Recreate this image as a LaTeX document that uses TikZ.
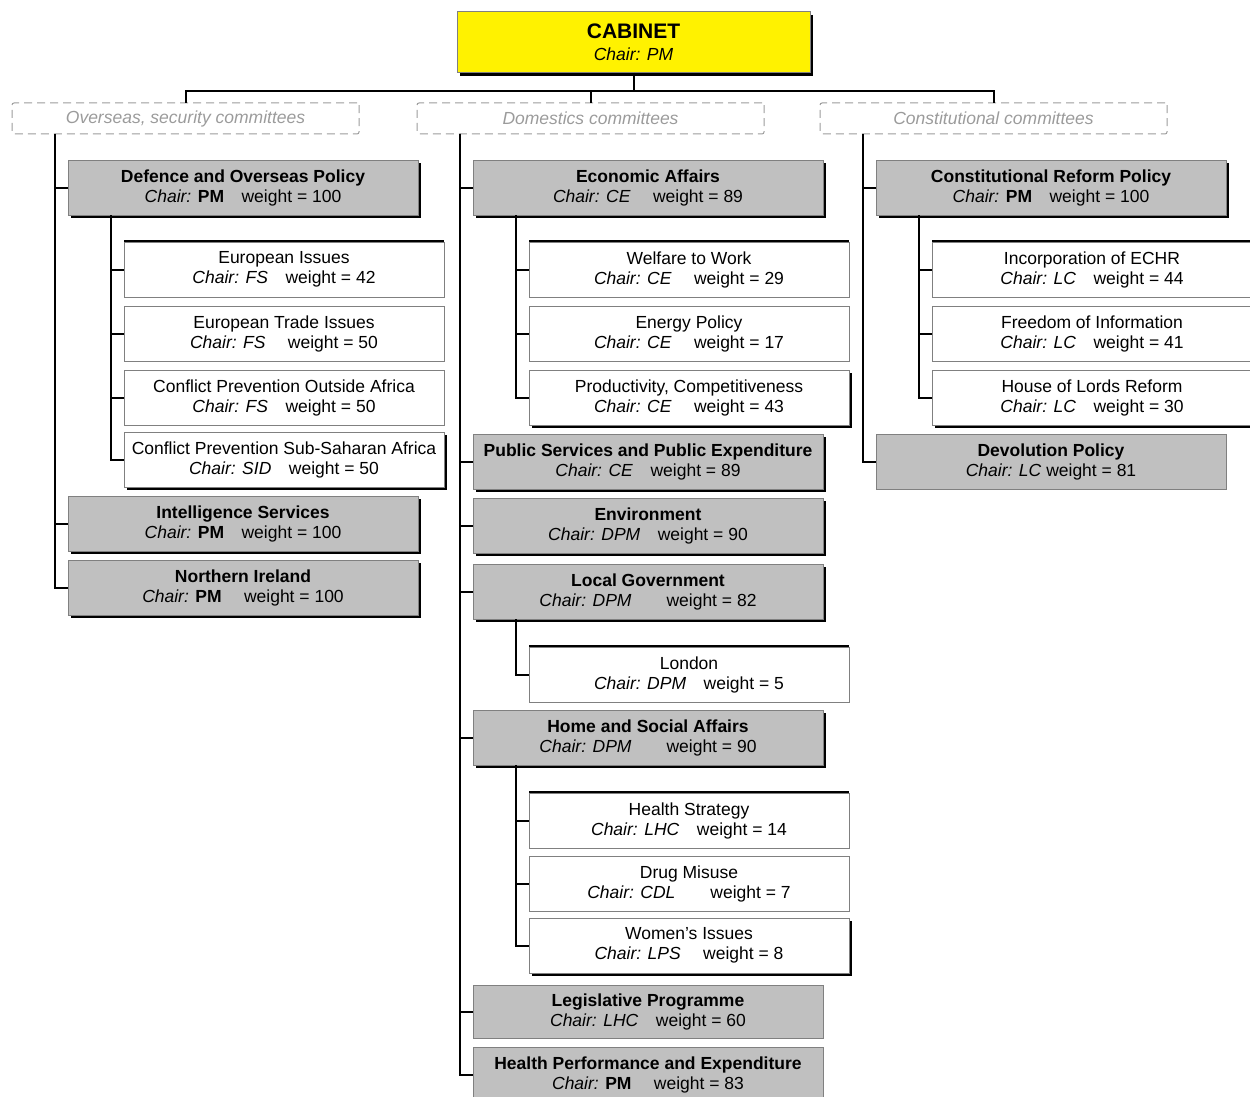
\documentclass[tikz,border=0pt]{standalone}
\usepackage{fontspec}
\setmainfont{Liberation Sans}
\usetikzlibrary{positioning, shadows}
\definecolor{silver}{RGB}{192,192,192}
\definecolor{frame}{RGB}{128,128,128}
\definecolor{faint}{RGB}{155,155,155}

\begin{document}
\begin{tikzpicture}[
    x=1pt, y=-1pt,
    box/.style={rectangle, draw=frame, line width=1pt, inner sep=0pt, outer sep=0pt, align=center, font=\fontsize{17.5}{20}\selectfont},
    comm/.style={box, fill=silver, minimum width=350pt, minimum height=55pt},
    sub/.style={box, fill=white, minimum width=320pt, minimum height=55pt},
    groupbox/.style={box, draw=faint, dash pattern=on 8pt off 5pt, rounded corners=2pt, minimum width=347pt, minimum height=31pt, text=faint, font=\fontsize{17.5}{20}\selectfont\itshape},
    shadowed/.style={drop shadow={shadow xshift=3pt, shadow yshift=-3pt, fill=black, opacity=1}},
    link/.style={line width=2pt}
]
    \path[use as bounding box, clip] (0,0) rectangle (1250,1097);

    % Nodes
    \node[box, fill=yellow, minimum width=353pt, minimum height=61pt, shadowed] (cabinet) at (633.5,42.5) {{\fontsize{21}{24}\selectfont\bfseries CABINET}\\[2pt]\textit{Chair: PM}};
    \coordinate[below=18pt of cabinet] (bus);

    \node[groupbox] (overseas) at (185.5,118.5) {Overseas, security committees};
    \node[groupbox, right=58pt of overseas] (domestic) {Domestics committees};
    \node[groupbox, right=56pt of domestic] (constit) {Constitutional committees};

    % overseas, security
    \node[comm, shadowed, below right=26pt and 56pt of overseas.south west] (defence) {\textbf{Defence and Overseas Policy}\\\textit{Chair:} \textbf{PM}\quad weight = 100};
    \node[sub, below right=27pt and 56pt of defence.south west] (euro) {European Issues\\\textit{Chair: FS}\quad weight = 42};
    \node[sub, below=9pt of euro] (trade) {European Trade Issues\\\textit{Chair: FS}\quad\ weight = 50};
    \node[sub, below=9pt of trade] (outside) {Conflict Prevention Outside Africa\\\textit{Chair: FS}\quad weight = 50};
    \node[sub, shadowed, below=7pt of outside] (subsah) {Conflict Prevention Sub-Saharan Africa\\\textit{Chair: SID}\quad weight = 50};
    \node[comm, shadowed, below=9pt of subsah.south west, anchor=north west, xshift=-56pt] (intel) {\textbf{Intelligence Services}\\\textit{Chair:} \textbf{PM}\quad weight = 100};
    \node[comm, shadowed, below=9pt of intel] (northern) {\textbf{Northern Ireland}\\\textit{Chair:} \textbf{PM}\quad\ weight = 100};

    % domestics
    \node[comm, shadowed, below right=26pt and 56pt of domestic.south west] (eco) {\textbf{Economic Affairs}\\\textit{Chair: CE}\quad\ weight = 89};
    \node[sub, below right=27pt and 56pt of eco.south west] (welfare) {Welfare to Work\\\textit{Chair: CE}\quad\ weight = 29};
    \node[sub, below=9pt of welfare] (energy) {Energy Policy\\\textit{Chair: CE}\quad\ weight = 17};
    \node[sub, shadowed, below=9pt of energy] (prod) {Productivity, Competitiveness\\\textit{Chair: CE}\quad\ weight = 43};
    \node[comm, shadowed, below=9pt of prod.south west, anchor=north west, xshift=-56pt] (pubserv) {\textbf{Public Services and Public Expenditure}\\\textit{Chair: CE}\quad weight = 89};
    \node[comm, shadowed, below=9pt of pubserv] (env) {\textbf{Environment}\\\textit{Chair: DPM}\quad weight = 90};
    \node[comm, shadowed, below=11pt of env] (localgov) {\textbf{Local Government}\\\textit{Chair: DPM}\qquad weight = 82};
    \node[sub, below right=28pt and 56pt of localgov.south west] (london) {London\\\textit{Chair: DPM}\quad weight = 5};
    \node[comm, shadowed, below=8pt of london.south west, anchor=north west, xshift=-56pt] (home) {\textbf{Home and Social Affairs}\\\textit{Chair: DPM}\qquad weight = 90};
    \node[sub, below right=28pt and 56pt of home.south west] (hstrat) {Health Strategy\\\textit{Chair: LHC}\quad weight = 14};
    \node[sub, below=8pt of hstrat] (drug) {Drug Misuse\\\textit{Chair: CDL}\qquad weight = 7};
    \node[sub, shadowed, below=7pt of drug] (women) {Women's Issues\\\textit{Chair: LPS}\quad\ weight = 8};
    \node[comm, minimum height=53pt, below=12pt of women.south west, anchor=north west, xshift=-56pt] (legis) {\textbf{Legislative Programme}\\\textit{Chair: LHC}\quad weight = 60};
    \node[comm, below=9pt of legis] (healthperf) {\textbf{Health Performance and Expenditure}\\\textit{Chair:} \textbf{PM}\quad\ weight = 83};

    % constitutional
    \node[comm, shadowed, below right=26pt and 56pt of constit.south west] (reform) {\textbf{Constitutional Reform Policy}\\\textit{Chair:} \textbf{PM}\quad weight = 100};
    \node[sub, below right=27pt and 56pt of reform.south west] (echr) {Incorporation of ECHR\\\textit{Chair: LC}\quad weight = 44};
    \node[sub, below=9pt of echr] (foi) {Freedom of Information\\\textit{Chair: LC}\quad weight = 41};
    \node[sub, shadowed, below=9pt of foi] (lords) {House of Lords Reform\\\textit{Chair: LC}\quad weight = 30};
    \node[comm, below=9pt of lords.south west, anchor=north west, xshift=-56pt] (devolution) {\textbf{Devolution Policy}\\\textit{Chair: LC} weight = 81};

    % dark top edges
    \foreach \n in {euro,welfare,london,hstrat,echr}
        \draw[line width=2.5pt] ([yshift=1pt]\n.north west) -- ([yshift=1pt]\n.north east);

    % Lines
    \draw[link] (cabinet) -- (bus);
    \foreach \g in {overseas,domestic,constit}
        \draw[link] (bus) -| (\g);
    \foreach \c in {defence,intel,northern}
        \draw[link] ([xshift=43pt]overseas.south west) |- (\c.west);
    \foreach \c in {euro,trade,outside,subsah}
        \draw[link] ([xshift=43pt]defence.south west) |- (\c.west);
    \foreach \c in {eco,pubserv,env,localgov,home,legis,healthperf}
        \draw[link] ([xshift=43pt]domestic.south west) |- (\c.west);
    \foreach \c in {welfare,energy,prod}
        \draw[link] ([xshift=43pt]eco.south west) |- (\c.west);
    \draw[link] ([xshift=43pt]localgov.south west) |- (london.west);
    \foreach \c in {hstrat,drug,women}
        \draw[link] ([xshift=43pt]home.south west) |- (\c.west);
    \foreach \c in {reform,devolution}
        \draw[link] ([xshift=43pt]constit.south west) |- (\c.west);
    \foreach \c in {echr,foi,lords}
        \draw[link] ([xshift=43pt]reform.south west) |- (\c.west);
\end{tikzpicture}
\end{document}
